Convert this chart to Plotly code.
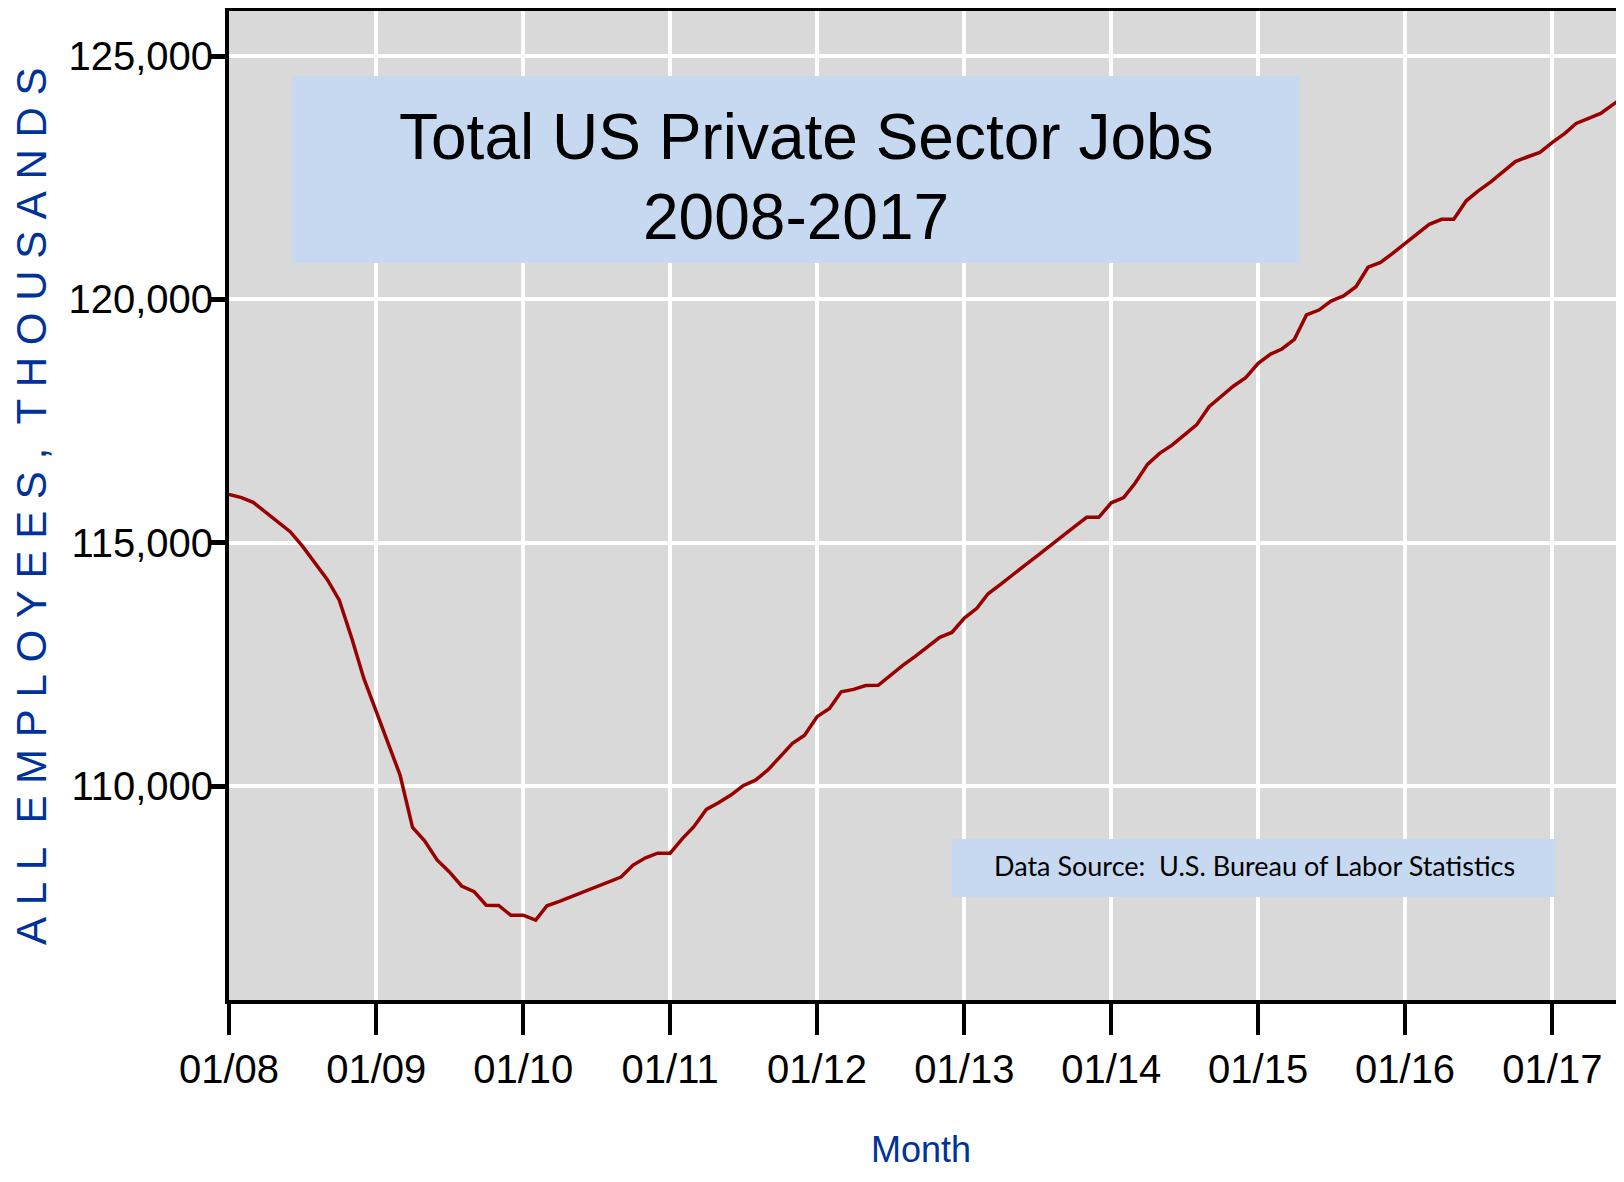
import pandas as pd
import plotly.graph_objects as go

# Monthly private-sector employment (thousands)
jobs_2008 = [115990, 115925, 115830, 115620, 115430, 115225, 114935, 114575, 114245, 113820, 113035, 112210]
jobs_2009 = [111525, 110805, 110225, 109150, 108875, 108480, 108240, 107945, 107830, 107550, 107545, 107345]
jobs_2010 = [107345, 107245, 107540, 107630, 107730, 107835, 107940, 108030, 108130, 108375, 108525, 108620]
jobs_2011 = [108620, 108925, 109165, 109520, 109655, 109815, 110005, 110120, 110330, 110600, 110875, 111045]
jobs_2012 = [111425, 111595, 111935, 111985, 112065, 112068, 112278, 112478, 112665, 112860, 113055, 113155]
jobs_2013 = [113450, 113650, 113950, 114145, 114350, 114540, 114730, 114935, 115130, 115325, 115520, 115520]
jobs_2014 = [115820, 115925, 116220, 116610, 116835, 117005, 117210, 117420, 117795, 118000, 118220, 118390]
jobs_2015 = [118685, 118875, 118980, 119180, 119680, 119780, 119965, 120070, 120260, 120660, 120760, 120945]
jobs_2016 = [121150, 121340, 121540, 121645, 121645, 122025, 122230, 122415, 122620, 122830, 122930, 123020]
jobs_2017 = [123225, 123410, 123615, 123720, 123820, 124005, 124190]

values = (jobs_2008 + jobs_2009 + jobs_2010 + jobs_2011 + jobs_2012 +
          jobs_2013 + jobs_2014 + jobs_2015 + jobs_2016 + jobs_2017)
months = pd.date_range("2008-01-01", periods=len(values), freq="MS")

y_ticks = [110000, 115000, 120000, 125000]

title_line1 = "Total US Private Sector Jobs"
title_line2 = "2008-2017"
source_text = "Data Source:&nbsp;&nbsp;U.S. Bureau of Labor Statistics"
x_title = "Month"
y_title_words = ["ALL", "EMPLOYEES,", "THOUSANDS"]

# the page body has an 8px margin, so the figure is offset by it
OFF = 8
W, H = 1616, 1166
L, R, T, B = 221, 4, 3, 174
PW, PH = W - L - R, H - T - B


def px_x(p):
    return (p - OFF - L) / PW


def px_y(p):
    return (H - B - (p - OFF)) / PH


NB = "\u00a0"
y_title = (NB * 2).join(NB.join(list(w)) for w in y_title_words)

sans = "Liberation Sans, Arial, sans-serif"
blue = "#003399"
box_col = "#c6d9f0"

fig = go.Figure()
fig.add_trace(go.Scatter(
    x=months, y=values, mode="lines",
    line=dict(color="#990000", width=3.5),
    hoverinfo="skip", showlegend=False,
))

fig.update_layout(
    width=W, height=H,
    margin=dict(l=L, r=R, t=T, b=B, pad=0, autoexpand=False),
    paper_bgcolor="white",
    plot_bgcolor="#d9d9d9",
    showlegend=False,
    xaxis=dict(
        range=["2008-01-01", "2017-06-18"],
        tick0="2008-01-01", dtick="M12", tickformat="%m/%y",
        showgrid=True, gridcolor="white", gridwidth=4,
        showline=True, linecolor="black", linewidth=4, mirror=True,
        ticks="outside", ticklen=31, tickwidth=3.5, tickcolor="black",
        tickfont=dict(family=sans, size=40, color="black"),
        zeroline=False, automargin=False,
    ),
    yaxis=dict(
        range=[105603, 125925],
        tickvals=y_ticks, tickformat=",d",
        showgrid=True, gridcolor="white", gridwidth=4,
        showline=True, linecolor="black", linewidth=4, mirror=True,
        ticks="outside", ticklen=14, tickwidth=5, tickcolor="black",
        tickfont=dict(family=sans, size=40, color="black"),
        ticklabelstandoff=-10,
        zeroline=False, automargin=False,
    ),
)

fig.add_shape(type="rect", xref="paper", yref="paper",
              x0=px_x(292), x1=px_x(1300), y0=px_y(263), y1=px_y(76),
              fillcolor=box_col, line=dict(width=0), layer="above")
fig.add_shape(type="rect", xref="paper", yref="paper",
              x0=px_x(952), x1=px_x(1556), y0=px_y(897), y1=px_y(839),
              fillcolor=box_col, line=dict(width=0), layer="above")

title_font = dict(family=sans, size=64, color="black")
fig.add_annotation(text=title_line1, xref="paper", yref="paper",
                   x=px_x(806), y=px_y(137), xanchor="center", yanchor="middle",
                   showarrow=False, font=title_font)
fig.add_annotation(text=title_line2, xref="paper", yref="paper",
                   x=px_x(796), y=px_y(217), xanchor="center", yanchor="middle",
                   showarrow=False, font=title_font)
fig.add_annotation(text=source_text, xref="paper", yref="paper",
                   x=px_x(1254), y=px_y(865), xanchor="center", yanchor="middle",
                   showarrow=False, font=dict(family="Lato, sans-serif", size=27, color="black"))
fig.add_annotation(text=x_title, xref="paper", yref="paper",
                   x=px_x(921), y=px_y(1149), xanchor="center", yanchor="middle",
                   showarrow=False, font=dict(family=sans, size=36, color=blue))
fig.add_annotation(text=y_title, xref="paper", yref="paper",
                   x=px_x(31), y=px_y(506), xanchor="center", yanchor="middle",
                   textangle=-90, showarrow=False,
                   font=dict(family=sans, size=42, color=blue))

fig.write_html("out.html")
